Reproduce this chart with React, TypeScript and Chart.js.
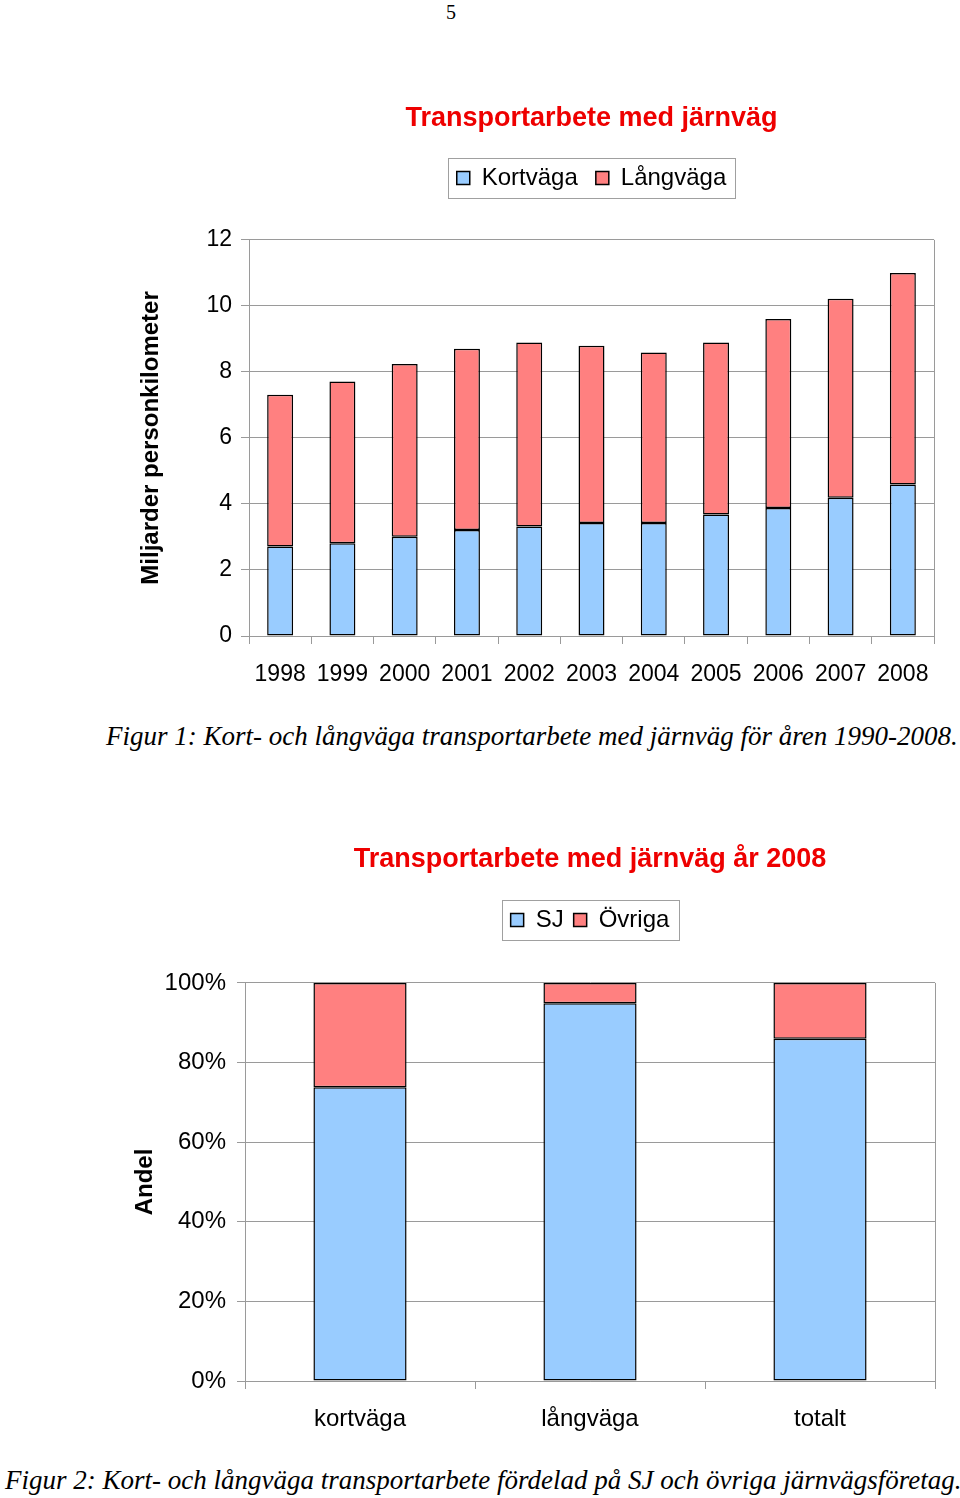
import React, { useEffect, useRef } from 'react';
import { Chart, registerables } from 'chart.js';

Chart.register(...registerables);

// ---------- data ----------
const years = ['1998', '1999', '2000', '2001', '2002', '2003', '2004', '2005', '2006', '2007', '2008'];
const kortvaga = [2.71, 2.81, 3.01, 3.21, 3.32, 3.42, 3.42, 3.68, 3.88, 4.19, 4.59];
const langvaga = [4.6, 4.9, 5.23, 5.49, 5.57, 5.37, 5.17, 5.21, 5.72, 6.03, 6.41];
const yTicks1 = [0, 2, 4, 6, 8, 10, 12];

const categories2 = ['kortväga', 'långväga', 'totalt'];
const sjShare = [73.8, 94.9, 86.0];
const ovrigaShare = [26.2, 5.1, 14.0];
const yTicks2 = [0, 20, 40, 60, 80, 100];

// ---------- styles ----------
const SANS = "'Liberation Sans', Arial, Helvetica, sans-serif";
const SERIF = "'Liberation Serif', 'Times New Roman', serif";
const BLUE = '#99CCFF';
const RED = '#FF8080';
const GRID = '#9a9a9a';
const TITLE_RED = '#EE0000';

function legendSpace(extra: number) {
  return {
    id: 'legendSpace',
    beforeLayout(chart: any) {
      const lg = chart.legend;
      if (!lg || lg._spacePatched) return;
      const orig = lg.fit;
      lg.fit = function () {
        orig.call(this);
        this.height += extra;
      };
      lg._spacePatched = true;
    },
  };
}

const framePlugin = {
  id: 'frame',
  afterDraw(chart: any) {
    const { ctx, chartArea: ca, legend } = chart;
    ctx.save();
    ctx.strokeStyle = GRID;
    ctx.lineWidth = 1;
    ctx.beginPath();
    ctx.moveTo(Math.round(ca.right) + 0.5, ca.top);
    ctx.lineTo(Math.round(ca.right) + 0.5, ca.bottom);
    ctx.stroke();
    const hb = legend && legend.legendHitBoxes;
    if (hb && hb.length) {
      let l = Infinity, r = -Infinity, cy = 0;
      hb.forEach((h: any) => {
        l = Math.min(l, h.left);
        r = Math.max(r, h.left + h.width);
        cy = h.top + h.height / 2;
      });
      ctx.strokeStyle = '#a0a0a0';
      ctx.strokeRect(Math.round(l - 9) + 0.5, Math.round(cy - 20) + 0.5, Math.round(r - l + 18), 40);
    }
    ctx.restore();
  },
};

function makeConfig(opts: {
  labels: string[];
  a: number[];
  b: number[];
  aLabel: string;
  bLabel: string;
  title: string;
  yTitle: string;
  ticks: number[];
  tickFmt: (v: number) => string;
  tickSize: number;
  yTickPad: number;
  xTickPad: number;
  barPct: number;
  legendPad: number;
  titlePadTop: number;
  titlePadBottom: number;
  legendExtra: number;
  yWidth: number;
  yTitlePad: number;
  rightPad: number;
}) {
  return {
    type: 'bar',
    data: {
      labels: opts.labels,
      datasets: [
        {
          label: opts.aLabel,
          data: opts.a,
          backgroundColor: BLUE,
          borderColor: '#000',
          borderWidth: 1.5,
          borderSkipped: false,
          categoryPercentage: 1,
          barPercentage: opts.barPct,
        },
        {
          label: opts.bLabel,
          data: opts.b,
          backgroundColor: RED,
          borderColor: '#000',
          borderWidth: 1.5,
          borderSkipped: false,
          categoryPercentage: 1,
          barPercentage: opts.barPct,
        },
      ],
    },
    options: {
      animation: false,
      responsive: false,
      devicePixelRatio: 1,
      layout: { padding: { left: 120, right: opts.rightPad, top: 0, bottom: 0 } },
      plugins: {
        tooltip: { enabled: false },
        title: {
          display: true,
          text: opts.title,
          color: TITLE_RED,
          fullSize: false,
          font: { family: SANS, size: 27, weight: 'bold', lineHeight: 1.2 },
          padding: { top: opts.titlePadTop, bottom: opts.titlePadBottom },
        },
        legend: {
          display: true,
          position: 'top',
          fullSize: false,
          labels: {
            color: '#000',
            boxWidth: 13,
            boxHeight: 13,
            padding: opts.legendPad,
            font: { family: SANS, size: 24 },
          },
        },
      },
      scales: {
        x: {
          stacked: true,
          grid: { offset: true, drawOnChartArea: false, tickLength: 8, color: GRID },
          border: { color: GRID, width: 1 },
          ticks: {
            color: '#000',
            font: { family: SANS, size: opts.tickSize },
            padding: opts.xTickPad,
            maxRotation: 0,
            autoSkip: false,
          },
          afterFit: (s: any) => {
            s.height = 60;
          },
        },
        y: {
          stacked: true,
          min: opts.ticks[0],
          max: opts.ticks[opts.ticks.length - 1],
          afterBuildTicks: (s: any) => {
            s.ticks = opts.ticks.map((v) => ({ value: v }));
          },
          ticks: {
            color: '#000',
            font: { family: SANS, size: opts.tickSize },
            padding: opts.yTickPad,
            callback: (v: any) => opts.tickFmt(Number(v)),
          },
          grid: { color: GRID, tickLength: 8 },
          border: { color: GRID, width: 1 },
          title: {
            display: true,
            text: opts.yTitle,
            color: '#000',
            font: { family: SANS, size: 24, weight: 'bold', lineHeight: 1.2 },
            padding: { top: opts.yTitlePad, bottom: 0 },
          },
          afterFit: (s: any) => {
            s.width = opts.yWidth;
          },
        },
      },
    },
    plugins: [legendSpace(opts.legendExtra), framePlugin],
  };
}

function ChartCanvas(props: { config: any; top: number; height: number }) {
  const ref = useRef<HTMLCanvasElement | null>(null);
  useEffect(() => {
    if (!ref.current) return;
    const chart = new Chart(ref.current, props.config);
    return () => chart.destroy();
  }, []);
  return (
    <canvas
      ref={ref}
      width={960}
      height={props.height}
      style={{ position: 'absolute', left: 0, top: props.top, width: 960, height: props.height }}
    />
  );
}

const config1 = makeConfig({
  labels: years,
  a: kortvaga,
  b: langvaga,
  aLabel: 'Kortväga',
  bLabel: 'Långväga',
  title: 'Transportarbete med järnväg',
  yTitle: 'Miljarder personkilometer',
  ticks: yTicks1,
  tickFmt: (v) => String(v),
  tickSize: 23,
  yTickPad: 9,
  xTickPad: 17,
  barPct: 0.417,
  legendPad: 18,
  titlePadTop: 22,
  titlePadBottom: 13.5,
  legendExtra: 40,
  yWidth: 129,
  yTitlePad: 17,
  rightPad: 26,
});

const config2 = makeConfig({
  labels: categories2,
  a: sjShare,
  b: ovrigaShare,
  aLabel: 'SJ',
  bLabel: 'Övriga',
  title: 'Transportarbete med järnväg år 2008',
  yTitle: 'Andel',
  ticks: yTicks2,
  tickFmt: (v) => v + '%',
  tickSize: 24,
  yTickPad: 11,
  xTickPad: 16,
  barPct: 0.405,
  legendPad: 10,
  titlePadTop: 43.5,
  titlePadBottom: 22,
  legendExtra: 41,
  yWidth: 125,
  yTitlePad: 11,
  rightPad: 25,
});

export default function App() {
  return (
    <div
      style={{
        position: 'absolute',
        left: 0,
        top: 0,
        width: 960,
        height: 1498,
        background: '#fff',
        overflow: 'hidden',
      }}
    >
      <div
        style={{
          position: 'absolute',
          left: 441,
          top: 2,
          width: 20,
          textAlign: 'center',
          fontFamily: SERIF,
          fontSize: 20,
          lineHeight: 1,
        }}
      >
        5
      </div>
      <ChartCanvas config={config1} top={80} height={616} />
      <div
        style={{
          position: 'absolute',
          left: 106,
          top: 723,
          whiteSpace: 'nowrap',
          fontFamily: SERIF,
          fontStyle: 'italic',
          fontSize: 27,
          lineHeight: 1,
        }}
      >
        Figur 1: Kort- och långväga transportarbete med järnväg för åren 1990-2008.
      </div>
      <ChartCanvas config={config2} top={800} height={641} />
      <div
        style={{
          position: 'absolute',
          left: 5,
          top: 1467,
          whiteSpace: 'nowrap',
          fontFamily: SERIF,
          fontStyle: 'italic',
          fontSize: 27,
          lineHeight: 1,
        }}
      >
        Figur 2: Kort- och långväga transportarbete fördelad på SJ och övriga järnvägsföretag.
      </div>
    </div>
  );
}
